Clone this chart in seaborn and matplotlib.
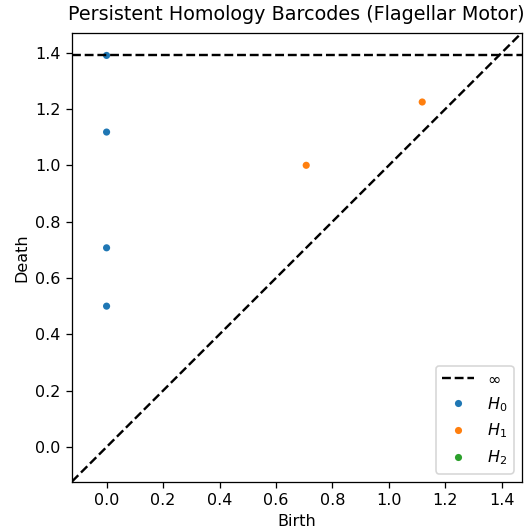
import numpy as np
import pandas as pd
import seaborn as sns
import matplotlib
matplotlib.use("Agg")
import matplotlib.pyplot as plt

# datos del diagrama de persistencia
h0_nacimiento = [0.0, 0.0, 0.0, 0.0]
h0_muerte = [0.5, 0.7071, 1.118, np.inf]
h1_nacimiento = [0.7071, 1.118]
h1_muerte = [1.0, 1.2247]
dimensiones = ["$H_0$", "$H_1$", "$H_2$"]

# limites al estilo persim
finitos = np.array([v for v in h0_nacimiento + h0_muerte + h1_nacimiento + h1_muerte if np.isfinite(v)])
ax_min, ax_max = finitos.min(), finitos.max()
buffer = (ax_max - ax_min) / 5
x_down = ax_min - buffer / 2
x_up = ax_max + buffer
b_inf = x_down + (x_up - x_down) * 0.95

h0_muerte_plot = [b_inf if not np.isfinite(v) else v for v in h0_muerte]

datos = pd.DataFrame({
    "Birth": h0_nacimiento + h1_nacimiento,
    "Death": h0_muerte_plot + h1_muerte,
    "dim": ["$H_0$"] * len(h0_nacimiento) + ["$H_1$"] * len(h1_nacimiento),
})

dpi = 115
fig = plt.figure(figsize=(526 / dpi, 531 / dpi), dpi=dpi)
ax = fig.add_axes([72 / 526, 49.5 / 531, 449.5 / 526, 448.5 / 531])

ax.plot([x_down, x_up], [b_inf, b_inf], "--", c="k", label=r"$\infty$")
ax.plot([x_down, x_up], [x_down, x_up], "--", c="k")

sns.scatterplot(data=datos, x="Birth", y="Death", hue="dim", hue_order=dimensiones,
                palette=["C0", "C1", "C2"], s=20, edgecolor="none", ax=ax)

ax.set_xlim(x_down, x_up)
ax.set_ylim(x_down, x_up)

handles, labels = ax.get_legend_handles_labels()
if "$H_2$" not in labels:
    handles.append(ax.scatter([], [], s=20, color="C2", edgecolor="none"))
    labels.append("$H_2$")
ax.legend(handles, labels, loc="lower right")

ax.set_xlabel("Birth")
ax.set_ylabel("Death")
ax.set_title("Persistent Homology Barcodes (Flagellar Motor)", pad=8)

plt.savefig("out.png", dpi=dpi)
